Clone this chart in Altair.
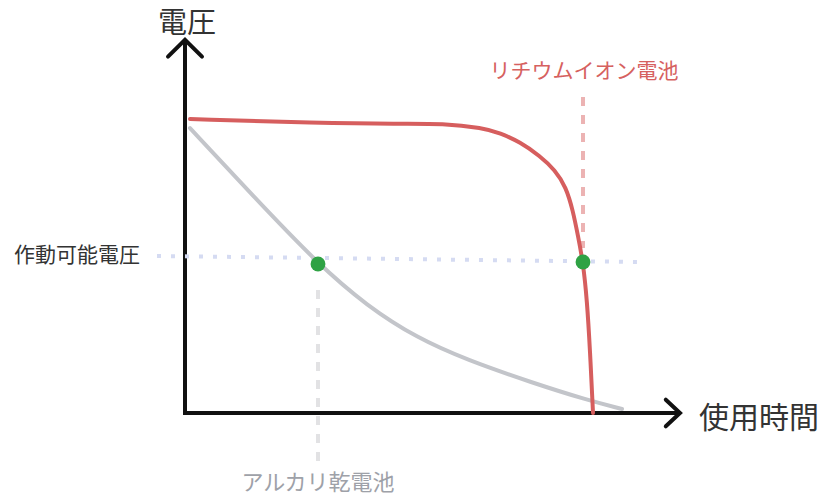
import altair as alt
import pandas as pd

# ---- data (time units, voltage units) ----
li_t = [0.125, 3.3, 5.375, 6.45, 7.45, 7.875, 8.375, 8.875, 9.25, 9.525, 9.7, 9.825, 9.95, 10.05, 10.125, 10.2]
li_v = [4.2, 4.143, 4.129, 4.138, 4.071, 4.0, 3.871, 3.671, 3.471, 3.229, 2.886, 2.529, 2.157, 1.614, 0.9, 0.0]

al_t = [0.125, 1.725, 3.325, 4.55, 5.8, 7.05, 8.7, 10.05, 10.925]
al_v = [4.071, 3.086, 2.129, 1.529, 1.071, 0.757, 0.429, 0.186, 0.057]

cut_t = [3.325, 9.95]
cut_v = [2.129, 2.157]

work_t = [-0.7, 11.425]
work_v = [2.243, 2.157]

al_guide_t = [3.325, 3.325]
al_guide_v = [1.757, -0.7]
li_guide_t = [9.95, 9.95]
li_guide_v = [4.514, 2.357]

axis_t = [0, 0, 12.375]
axis_v = [5.33, 0, 0]
yarrow_t = [-0.425, 0, 0.425]
yarrow_v = [5.09, 5.33, 5.09]
xarrow_t = [12.02, 12.375, 12.02]
xarrow_v = [0.19, 0, -0.19]

labels = ["電圧", "使用時間", "作動可能電圧", "リチウムイオン電池", "アルカリ乾電池"]
label_t = [0.05, 12.85, -1.125, 9.975, 3.325]
label_v = [5.55, -0.08, 2.243, 4.871, -1.0]

FONT = "Noto Sans CJK JP"
XS = alt.Scale(domain=[-4.425, 15.9], nice=False, zero=False)
YS = alt.Scale(domain=[-1.1857, 5.7857], nice=False, zero=False)


def df(t, v):
    return pd.DataFrame({"t": t, "v": v, "o": list(range(len(t)))})


def line(t, v, color, width, dash=None, interp="linear", cap="round"):
    kw = dict(color=color, strokeWidth=width, interpolate=interp, strokeCap=cap, strokeJoin="miter")
    if dash:
        kw["strokeDash"] = dash
    return alt.Chart(df(t, v)).mark_line(**kw).encode(
        x=alt.X("t:Q", scale=XS, axis=None),
        y=alt.Y("v:Q", scale=YS, axis=None),
        order="o:Q",
    )


def text(i, size, color, align, baseline="middle"):
    d = pd.DataFrame({"t": [label_t[i]], "v": [label_v[i]], "s": [labels[i]]})
    return alt.Chart(d).mark_text(
        font=FONT, fontSize=size, color=color, align=align, baseline=baseline
    ).encode(
        x=alt.X("t:Q", scale=XS, axis=None),
        y=alt.Y("v:Q", scale=YS, axis=None),
        text="s:N",
    )


layers = [
    line(axis_t, axis_v, "#111111", 4, cap="butt"),
    line(yarrow_t, yarrow_v, "#111111", 4),
    line(xarrow_t, xarrow_v, "#111111", 4),
    line(work_t, work_v, "#d5dbf2", 4, dash=[4, 10], cap="butt"),
    line(al_guide_t, al_guide_v, "#e2e2e4", 4, dash=[9, 9], cap="butt"),
    line(li_guide_t, li_guide_v, "#ecb3b3", 4, dash=[9, 9], cap="butt"),
    line(al_t, al_v, "#c3c5ca", 4, interp="basis"),
    line(li_t, li_v, "#d65e5e", 4, interp="basis"),
    alt.Chart(df(cut_t, cut_v)).mark_circle(size=220, color="#2fa244", opacity=1).encode(
        x=alt.X("t:Q", scale=XS, axis=None),
        y=alt.Y("v:Q", scale=YS, axis=None),
    ),
    text(0, 29, "#333333", "center"),
    text(1, 30, "#333333", "left"),
    text(2, 21, "#333333", "right"),
    text(3, 21, "#d6615f", "center"),
    text(4, 22, "#9ea1a8", "center"),
]

chart = alt.layer(*layers).properties(
    width=813, height=488, autosize=alt.AutoSizeParams(type="none"), padding=0,
    background="white",
).configure_view(stroke=None)

chart.save("out.html", embed_options={"renderer": "svg", "actions": False})
